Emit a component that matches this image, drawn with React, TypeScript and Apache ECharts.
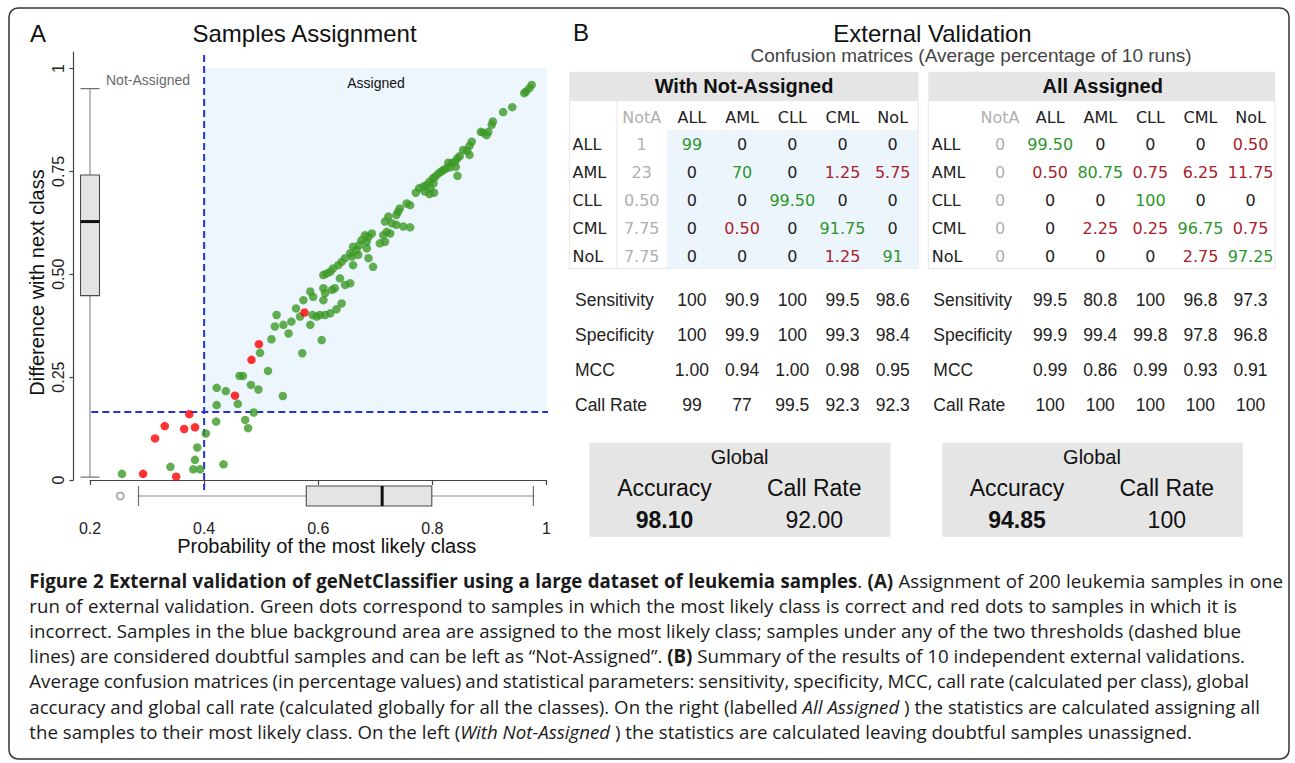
import React, { useEffect, useRef } from "react";
import * as echarts from "echarts";

// ---------------- Panel A data ----------------
const correctPoints: number[][] = [
  [0.974, 0.96], [0.97, 0.952], [0.964, 0.944], [0.961, 0.94], [0.94, 0.906], [0.924, 0.894],
  [0.906, 0.871], [0.904, 0.863], [0.898, 0.846], [0.889, 0.844], [0.895, 0.838], [0.885, 0.846],
  [0.869, 0.822], [0.865, 0.812], [0.861, 0.8], [0.854, 0.802], [0.865, 0.79], [0.848, 0.787],
  [0.844, 0.782], [0.84, 0.774], [0.834, 0.77], [0.828, 0.771], [0.841, 0.761], [0.831, 0.76],
  [0.824, 0.757], [0.819, 0.753], [0.815, 0.749], [0.844, 0.739], [0.81, 0.744], [0.805, 0.737],
  [0.801, 0.733], [0.795, 0.725], [0.802, 0.721], [0.79, 0.717], [0.784, 0.713], [0.796, 0.709],
  [0.777, 0.709], [0.771, 0.698], [0.787, 0.701], [0.803, 0.698], [0.795, 0.695],
  [0.755, 0.672], [0.761, 0.668], [0.743, 0.66], [0.74, 0.652], [0.737, 0.644], [0.723, 0.64],
  [0.717, 0.628], [0.729, 0.624], [0.737, 0.62], [0.749, 0.616], [0.761, 0.614], [0.72, 0.603],
  [0.714, 0.595], [0.726, 0.599], [0.694, 0.599], [0.688, 0.591], [0.682, 0.595], [0.676, 0.583],
  [0.685, 0.579], [0.717, 0.579], [0.708, 0.575], [0.672, 0.571], [0.661, 0.567], [0.685, 0.563],
  [0.667, 0.559], [0.656, 0.551], [0.67, 0.547], [0.659, 0.543], [0.688, 0.539], [0.647, 0.539],
  [0.641, 0.53], [0.661, 0.522], [0.696, 0.518], [0.635, 0.522], [0.626, 0.514], [0.621, 0.506],
  [0.615, 0.502], [0.609, 0.498], [0.638, 0.49], [0.656, 0.478], [0.647, 0.474], [0.629, 0.466],
  [0.624, 0.462], [0.609, 0.466], [0.612, 0.454], [0.586, 0.458], [0.591, 0.445], [0.609, 0.437],
  [0.574, 0.437], [0.641, 0.429], [0.632, 0.415], [0.621, 0.405], [0.612, 0.401], [0.603, 0.401],
  [0.597, 0.397], [0.59, 0.401], [0.561, 0.417], [0.568, 0.397], [0.553, 0.385], [0.586, 0.377],
  [0.539, 0.377], [0.527, 0.401], [0.524, 0.373], [0.548, 0.356], [0.606, 0.34],
  [0.518, 0.342], [0.498, 0.309], [0.572, 0.308],
  [0.512, 0.265], [0.462, 0.253], [0.468, 0.253], [0.422, 0.224], [0.438, 0.216], [0.482, 0.231],
  [0.495, 0.22], [0.538, 0.204], [0.422, 0.182], [0.459, 0.185], [0.487, 0.164], [0.421, 0.142],
  [0.472, 0.146], [0.477, 0.126], [0.403, 0.113], [0.388, 0.079], [0.341, 0.032], [0.384, 0.049],
  [0.434, 0.038], [0.381, 0.026], [0.393, 0.026], [0.256, 0.015],
];
const incorrectPoints: number[][] = [
  [0.576, 0.407], [0.496, 0.33], [0.483, 0.292], [0.454, 0.205], [0.374, 0.16], [0.331, 0.131],
  [0.365, 0.124], [0.384, 0.128], [0.314, 0.101], [0.293, 0.015], [0.351, 0.008],
];
// five-number summaries: [lower whisker, Q1, median, Q3, upper whisker]
const probabilityBox = [0.285, 0.579, 0.712, 0.799, 0.977];
const probabilityOutliers = [0.253];
const differenceBox = [0.007, 0.448, 0.628, 0.741, 0.951];
const probabilityThreshold = 0.4;
const differenceThreshold = 0.165;
const thresholdLineYExtent = [1.033, -0.024];
const thresholdLineXExtent = [0.183, 1.003];
const xTickValues = [0.2, 0.4, 0.6, 0.8, 1];
const xTickLabels = ["0.2", "0.4", "0.6", "0.8", "1"];
const yTickValues = [0, 0.25, 0.5, 0.75, 1];
const yTickLabels = ["0", "0.25", "0.50", "0.75", "1"];

// ---------------- Panel B data ----------------
const classNames = ["ALL", "AML", "CLL", "CML", "NoL"];
const matrixColumns = ["NotA", "ALL", "AML", "CLL", "CML", "NoL"];
const withNotAssignedMatrix = [
  ["1", "99", "0", "0", "0", "0"],
  ["23", "0", "70", "0", "1.25", "5.75"],
  ["0.50", "0", "0", "99.50", "0", "0"],
  ["7.75", "0", "0.50", "0", "91.75", "0"],
  ["7.75", "0", "0", "0", "1.25", "91"],
];
const allAssignedMatrix = [
  ["0", "99.50", "0", "0", "0", "0.50"],
  ["0", "0.50", "80.75", "0.75", "6.25", "11.75"],
  ["0", "0", "0", "100", "0", "0"],
  ["0", "0", "2.25", "0.25", "96.75", "0.75"],
  ["0", "0", "0", "0", "2.75", "97.25"],
];
const statNames = ["Sensitivity", "Specificity", "MCC", "Call Rate"];
const withNotAssignedStats = [
  ["100", "90.9", "100", "99.5", "98.6"],
  ["100", "99.9", "100", "99.3", "98.4"],
  ["1.00", "0.94", "1.00", "0.98", "0.95"],
  ["99", "77", "99.5", "92.3", "92.3"],
];
const allAssignedStats = [
  ["99.5", "80.8", "100", "96.8", "97.3"],
  ["99.9", "99.4", "99.8", "97.8", "96.8"],
  ["0.99", "0.86", "0.99", "0.93", "0.91"],
  ["100", "100", "100", "100", "100"],
];
const globalLabels = ["Accuracy", "Call Rate"];
const withNotAssignedGlobal = ["98.10", "92.00"];
const allAssignedGlobal = ["94.85", "100"];

const captionLines = [
  "*Figure 2 External validation of geNetClassifier using a large dataset of leukemia samples*. *(A)* Assignment of 200 leukemia samples in one",
  "run of external validation. Green dots correspond to samples in which the most likely class is correct and red dots to samples in which it is",
  "incorrect. Samples in the blue background area are assigned to the most likely class; samples under any of the two thresholds (dashed blue",
  "lines) are considered doubtful samples and can be left as \u201cNot-Assigned\u201d. *(B)* Summary of the results of 10 independent external validations.",
  "Average confusion matrices (in percentage values) and statistical parameters: sensitivity, specificity, MCC, call rate (calculated per class), global",
  "accuracy and global call rate (calculated globally for all the classes). On the right (labelled _All Assigned_ ) the statistics are calculated assigning all",
  "the samples to their most likely class. On the left (_With Not-Assigned_ ) the statistics are calculated leaving doubtful samples unassigned.",
];
const captionLineEnds = [1283, 1237, 1241, 1245, 1249, 1260, 1192];

// ---------------- helpers ----------------
const SANS = "Liberation Sans";
const GREEN = "#3b9a26";
const TABLE_GREEN = "#2c962c";
const TABLE_RED = "#a8222c";

const labelFor = (vals: number[], labels: string[], v: number) => {
  const i = vals.findIndex((t) => Math.abs(t - v) < 1e-6);
  return i >= 0 ? labels[i] : "";
};

function txt(x: number, y: number, text: string, size: number, opts: any = {}) {
  return {
    type: "text",
    x,
    y,
    rotation: opts.rotation || 0,
    silent: true,
    z: 10,
    style: {
      text,
      fontSize: size,
      fontFamily: opts.family || SANS,
      fontWeight: opts.weight || "normal",
      fontStyle: opts.style || "normal",
      fill: opts.fill || "#111",
      align: opts.align || "center",
      verticalAlign: "middle",
    },
  };
}

function rect(x: number, y: number, w: number, h: number, style: any, z = 0) {
  return { type: "rect", silent: true, z, shape: { x, y, width: w, height: h }, style };
}

function buildCaption(): any[] {
  const canvas = document.createElement("canvas");
  const ctx = canvas.getContext("2d")!;
  const family = '"Open Sans", "Noto Sans", sans-serif';
  const fontOf = (size: number, b: boolean, i: boolean) =>
    `${i ? "italic " : ""}${b ? "bold " : ""}${size}px ${family}`;
  let bold = false;
  let italic = false;
  const lines = captionLines.map((line) =>
    line
      .split(" ")
      .map((word) => {
        const runs: { text: string; b: boolean; i: boolean }[] = [];
        let cur = "";
        for (const ch of word) {
          if (ch === "*" || ch === "_") {
            if (cur) runs.push({ text: cur, b: bold, i: italic });
            cur = "";
            if (ch === "*") bold = !bold;
            else italic = !italic;
          } else cur += ch;
        }
        if (cur) runs.push({ text: cur, b: bold, i: italic });
        return runs;
      })
      .filter((r) => r.length > 0)
  );
  const measure = (size: number, r: { text: string; b: boolean; i: boolean }) => {
    ctx.font = fontOf(size, r.b, r.i);
    return ctx.measureText(r.text).width;
  };
  const left = 29.3;
  const base = 19;
  const natural = (size: number, words: any[]) => {
    ctx.font = fontOf(size, false, false);
    const sp = ctx.measureText(" ").width;
    let w = 0;
    words.forEach((runs: any[]) => runs.forEach((r) => (w += measure(size, r))));
    return w + sp * (words.length - 1);
  };
  const ratios = lines.map((words, k) => (captionLineEnds[k] - left) / natural(base, words)).sort((a, b) => a - b);
  let size = base * ratios[Math.floor(ratios.length / 2)];
  size = Math.max(15, Math.min(21, size));
  ctx.font = fontOf(size, false, false);
  const spaceW = ctx.measureText(" ").width;
  const out: any[] = [];
  lines.forEach((words, k) => {
    const y = 580 + 25.2 * k;
    const widths = words.map((runs: any[]) => runs.reduce((s: number, r: any) => s + measure(size, r), 0));
    const sum = widths.reduce((a: number, b: number) => a + b, 0);
    let gap = (captionLineEnds[k] - left - sum) / Math.max(1, words.length - 1);
    gap = Math.max(spaceW * 0.6, Math.min(spaceW * 2.2, gap));
    let x = left;
    words.forEach((runs: any[], wi: number) => {
      let rx = x;
      runs.forEach((r: any) => {
        out.push({
          type: "text",
          x: rx,
          y,
          silent: true,
          z: 10,
          style: {
            text: r.text,
            font: fontOf(size, r.b, r.i),
            fill: "#1a1a1a",
            align: "left",
            verticalAlign: "middle",
          },
        });
        rx += measure(size, r);
      });
      x += widths[wi] + gap;
    });
  });
  return out;
}

function textTableSeries(xi: number, yi: number, table: string[][], fontSize: number, family: string, colorFn: (r: number, c: number, t: string) => string) {
  const cells: number[][] = [];
  table.forEach((row, r) => row.forEach((_, c) => cells.push([c, r])));
  return {
    type: "custom",
    xAxisIndex: xi,
    yAxisIndex: yi,
    silent: true,
    z: 5,
    data: cells,
    renderItem: (params: any, api: any) => {
      const [c, r] = cells[params.dataIndex];
      const p = api.coord([c, r]);
      const t = table[r][c];
      return {
        type: "text",
        x: p[0],
        y: p[1],
        style: { text: t, fontSize, fontFamily: family, fill: colorFn(r, c, t), align: "center", verticalAlign: "middle" },
      };
    },
  };
}

// R-style boxplot drawn through the axes of a grid (category index 0 on the category axis)
function boxplotSeries(xi: number, yi: number, stats: number[], horizontal: boolean) {
  return {
    type: "custom",
    xAxisIndex: xi,
    yAxisIndex: yi,
    silent: true,
    z: 3,
    encode: horizontal ? { y: 0, x: [1, 2, 3, 4, 5] } : { x: 0, y: [1, 2, 3, 4, 5] },
    data: [[0, ...stats]],
    renderItem: (params: any, api: any) => {
      const cat = api.value(0);
      const vals = [1, 2, 3, 4, 5].map((i) => api.value(i));
      const pt = (v: number) => (horizontal ? api.coord([v, cat]) : api.coord([cat, v]));
      const band = horizontal ? api.size([0, 1])[1] : api.size([1, 0])[0];
      const half = band / 2;
      const p = vals.map(pt);
      const along = (q: number[]) => (horizontal ? q[0] : q[1]);
      const c = horizontal ? p[0][1] : p[0][0];
      const seg = (a: number, b: number, off1: number, off2: number) =>
        horizontal
          ? { x1: a, y1: c + off1, x2: b, y2: c + off2 }
          : { x1: c + off1, y1: a, x2: c + off2, y2: b };
      const cross = (v: number) =>
        horizontal ? { x1: v, y1: c - half, x2: v, y2: c + half } : { x1: c - half, y1: v, x2: c + half, y2: v };
      const whisker = { stroke: "#8c8c8c", lineWidth: 1.2 };
      const a0 = along(p[0]), a1 = along(p[1]), a2 = along(p[2]), a3 = along(p[3]), a4 = along(p[4]);
      const boxShape = horizontal
        ? { x: Math.min(a1, a3), y: c - half, width: Math.abs(a3 - a1), height: band }
        : { x: c - half, y: Math.min(a1, a3), width: band, height: Math.abs(a3 - a1) };
      return {
        type: "group",
        children: [
          { type: "line", shape: seg(a0, a1, 0, 0), style: whisker },
          { type: "line", shape: seg(a3, a4, 0, 0), style: whisker },
          { type: "line", shape: cross(a0), style: { stroke: "#6e6e6e", lineWidth: 1.2 } },
          { type: "line", shape: cross(a4), style: { stroke: "#6e6e6e", lineWidth: 1.2 } },
          { type: "rect", shape: boxShape, style: { fill: "#e4e4e4", stroke: "#4a4a4a", lineWidth: 1.1 } },
          { type: "line", shape: cross(a2), style: { stroke: "#111", lineWidth: 3 } },
        ],
      };
    },
  };
}

const matrixColor = (r: number, c: number, t: string) => {
  if (c === 0) return "#b0b0b0";
  if (c === r + 1) return TABLE_GREEN;
  if (parseFloat(t) !== 0) return TABLE_RED;
  return "#222";
};

function matrixXAxis(gridIndex: number) {
  return {
    gridIndex,
    type: "category",
    data: matrixColumns,
    position: "top",
    axisLine: { show: false },
    axisTick: { show: false },
    splitLine: { show: false },
    axisLabel: {
      interval: 0,
      margin: 6,
      fontFamily: "DejaVu Sans",
      fontSize: 16,
      color: (v: string) => (v === "NotA" ? "#b0b0b0" : "#222"),
    },
  };
}

function rowYAxis(gridIndex: number, data: string[], margin: number, family: string, fontSize: number) {
  return {
    gridIndex,
    type: "category",
    data,
    inverse: true,
    axisLine: { show: false },
    axisTick: { show: false },
    splitLine: { show: false },
    axisLabel: { interval: 0, align: "left", margin, fontFamily: family, fontSize, color: "#222" },
  };
}

function buildOption() {
  const axisColor = "#444";

  const graphic: any[] = [
    // figure border
    { type: "rect", silent: true, z: 0, shape: { x: 9, y: 8, width: 1280, height: 751, r: 9 }, style: { fill: "none", stroke: "#333", lineWidth: 1.5 } },
    // Panel A texts
    txt(30, 33, "A", 24, { align: "left" }),
    txt(304.5, 33, "Samples Assignment", 24),
    txt(106, 80, "Not-Assigned", 14, { align: "left", fill: "#6a6a6a" }),
    txt(376, 82.7, "Assigned", 14, { fill: "#111" }),
    txt(326.7, 546, "Probability of the most likely class", 20),
    txt(37, 282.5, "Difference with next class", 20, { rotation: Math.PI / 2 }),
    // Panel B titles
    txt(573, 32.5, "B", 24, { align: "left" }),
    txt(932.5, 33, "External Validation", 24),
    txt(971, 55, "Confusion matrices (Average percentage of 10 runs)", 19, { fill: "#444" }),
    // Left table decoration
    rect(569.3, 71.7, 349, 29, { fill: "#e5e5e5" }),
    rect(569.3, 100.7, 349, 167.6, { fill: "#fff", stroke: "#e6e6e6", lineWidth: 1 }),
    rect(666.8, 130, 251.5, 138.3, { fill: "#edf5fc" }),
    { type: "line", silent: true, z: 1, shape: { x1: 617, y1: 100.7, x2: 617, y2: 268.3 }, style: { stroke: "#e6e6e6", lineWidth: 1 } },
    txt(744, 86, "With Not-Assigned", 20, { weight: "bold" }),
    // Right table decoration
    rect(928.3, 71.7, 346.7, 29, { fill: "#e5e5e5" }),
    rect(928.3, 100.7, 346.7, 167.6, { fill: "#fff", stroke: "#e6e6e6", lineWidth: 1 }),
    txt(1102.7, 86, "All Assigned", 20, { weight: "bold" }),
    // Global boxes
    rect(589.4, 442.7, 301, 94, { fill: "#e5e5e5" }),
    txt(739.6, 456.7, "Global", 20),
    txt(664.5, 488.3, globalLabels[0], 23),
    txt(814.2, 488.3, globalLabels[1], 23),
    txt(664.5, 520, withNotAssignedGlobal[0], 23, { weight: "bold" }),
    txt(814.2, 520, withNotAssignedGlobal[1], 23),
    rect(942.3, 442.7, 300.5, 94, { fill: "#e5e5e5" }),
    txt(1092, 456.7, "Global", 20),
    txt(1017, 488.3, globalLabels[0], 23),
    txt(1166.8, 488.3, globalLabels[1], 23),
    txt(1017, 520, allAssignedGlobal[0], 23, { weight: "bold" }),
    txt(1166.8, 520, allAssignedGlobal[1], 23),
    ...buildCaption(),
  ];

  return {
    animation: false,
    backgroundColor: "#fff",
    textStyle: { fontFamily: SANS },
    graphic,
    grid: [
      { left: 90, top: 52, width: 456.5, height: 428, outerBoundsMode: "none" },
      { left: 90, top: 486, width: 456.5, height: 20, outerBoundsMode: "none" },
      { left: 80.5, top: 52, width: 19, height: 428, outerBoundsMode: "none" },
      { left: 616.6, top: 131, width: 301.2, height: 139, outerBoundsMode: "none" },
      { left: 666.8, top: 282, width: 251, height: 140, outerBoundsMode: "none" },
      { left: 975, top: 131, width: 300.7, height: 139, outerBoundsMode: "none" },
      { left: 1025.1, top: 282, width: 250.5, height: 140, outerBoundsMode: "none" },
    ],
    xAxis: [
      {
        gridIndex: 0,
        type: "value",
        min: 0.2,
        max: 1,
        position: "bottom",
        offset: 33.3,
        axisLine: { show: true, lineStyle: { color: axisColor, width: 1.2 } },
        axisTick: { show: true, length: 5, customValues: xTickValues, lineStyle: { color: axisColor, width: 1.2 } },
        axisLabel: {
          customValues: xTickValues,
          formatter: (v: number) => labelFor(xTickValues, xTickLabels, v),
          fontSize: 16,
          color: "#222",
          margin: 7,
        },
        splitLine: { show: false },
      },
      { gridIndex: 1, type: "value", min: 0.2, max: 1, show: false },
      { gridIndex: 2, type: "category", data: ["difference"], show: false },
      matrixXAxis(3),
      { gridIndex: 4, type: "category", data: classNames, show: false },
      matrixXAxis(5),
      { gridIndex: 6, type: "category", data: classNames, show: false },
    ],
    yAxis: [
      {
        gridIndex: 0,
        type: "value",
        min: 0,
        max: 1.04,
        position: "left",
        offset: 16.7,
        axisLine: { show: true, lineStyle: { color: axisColor, width: 1.2 } },
        axisTick: { show: true, length: 4, customValues: yTickValues, lineStyle: { color: axisColor, width: 1.2 } },
        axisLabel: {
          customValues: yTickValues,
          rotate: 90,
          formatter: (v: number) => labelFor(yTickValues, yTickLabels, v),
          fontSize: 16,
          color: "#222",
          margin: 7,
        },
        splitLine: { show: false },
      },
      { gridIndex: 1, type: "category", data: ["probability"], show: false },
      { gridIndex: 2, type: "value", min: 0, max: 1.04, show: false },
      rowYAxis(3, classNames, 44, "DejaVu Sans", 16),
      rowYAxis(4, statNames, 91.8, SANS, 17.5),
      rowYAxis(5, classNames, 43.3, "DejaVu Sans", 16),
      rowYAxis(6, statNames, 91.8, SANS, 17.5),
    ],
    series: [
      {
        type: "custom",
        xAxisIndex: 0,
        yAxisIndex: 0,
        silent: true,
        z: 1,
        encode: { x: [0, 2], y: [1, 3] },
        data: [[probabilityThreshold, differenceThreshold, 1, 1]],
        renderItem: (params: any, api: any) => {
          const p0 = api.coord([api.value(0), api.value(1)]);
          const p1 = api.coord([api.value(2), api.value(3)]);
          return {
            type: "rect",
            shape: { x: p0[0], y: p1[1], width: p1[0] - p0[0], height: p0[1] - p1[1] },
            style: { fill: "#edf5fd" },
          };
        },
      },
      {
        type: "line",
        xAxisIndex: 0,
        yAxisIndex: 0,
        z: 2,
        clip: false,
        silent: true,
        symbol: "none",
        data: [
          [probabilityThreshold, thresholdLineYExtent[0]],
          [probabilityThreshold, thresholdLineYExtent[1]],
        ],
        lineStyle: { color: "#2233d8", width: 2, type: [7, 4] },
      },
      {
        type: "line",
        xAxisIndex: 0,
        yAxisIndex: 0,
        z: 2,
        clip: false,
        silent: true,
        symbol: "none",
        data: [
          [thresholdLineXExtent[0], differenceThreshold],
          [thresholdLineXExtent[1], differenceThreshold],
        ],
        lineStyle: { color: "#2233d8", width: 2, type: [7, 4] },
      },
      {
        type: "scatter",
        xAxisIndex: 0,
        yAxisIndex: 0,
        z: 3,
        clip: false,
        silent: true,
        symbolSize: 8.5,
        itemStyle: { color: GREEN },
        data: correctPoints,
      },
      {
        type: "scatter",
        xAxisIndex: 0,
        yAxisIndex: 0,
        z: 4,
        clip: false,
        silent: true,
        symbolSize: 8.5,
        itemStyle: { color: "#ff0000" },
        data: incorrectPoints,
      },
      // bottom (horizontal) boxplot of the probability of the most likely class
      boxplotSeries(1, 1, probabilityBox, true),
      {
        type: "scatter",
        xAxisIndex: 1,
        yAxisIndex: 1,
        z: 4,
        silent: true,
        symbol: "emptyCircle",
        symbolSize: 7,
        itemStyle: { color: "#999", borderColor: "#999", borderWidth: 1.2 },
        data: probabilityOutliers.map((v) => [v, 0]),
      },
      // left (vertical) boxplot of the difference with the next class
      boxplotSeries(2, 2, differenceBox, false),
      // Panel B tables
      textTableSeries(3, 3, withNotAssignedMatrix, 16, "DejaVu Sans", matrixColor),
      textTableSeries(4, 4, withNotAssignedStats, 17.5, SANS, () => "#222"),
      textTableSeries(5, 5, allAssignedMatrix, 16, "DejaVu Sans", matrixColor),
      textTableSeries(6, 6, allAssignedStats, 17.5, SANS, () => "#222"),
    ],
  };
}

export default function App() {
  const ref = useRef<HTMLDivElement>(null);
  useEffect(() => {
    const chart = echarts.init(ref.current!, null, { renderer: "svg" });
    chart.setOption(buildOption() as any);
    return () => chart.dispose();
  }, []);
  return (
    <div
      ref={ref}
      style={{ position: "absolute", left: 0, top: 0, width: 1295, height: 763, background: "#fff" }}
    />
  );
}
